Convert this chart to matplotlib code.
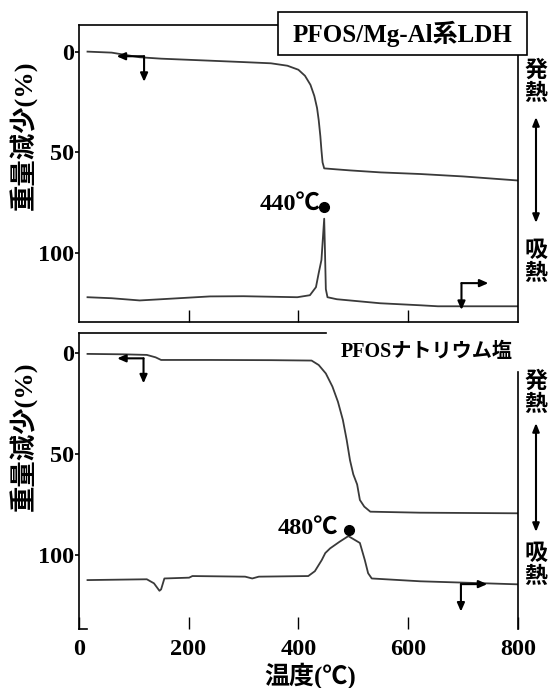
import matplotlib
matplotlib.use("Agg")
import matplotlib.pyplot as plt
from matplotlib.patches import Rectangle

plt.rcParams['font.family'] = ['Liberation Serif', 'Noto Sans CJK JP', 'DejaVu Sans']
plt.rcParams['font.weight'] = 'bold'

# temperature axis
x_ticks = [0, 200, 400, 600, 800]
y_ticks = [0, 50, 100]

# PFOS/Mg-Al LDH : TG (weight loss %) and DTA trace
ldh_tg_T = [16, 60, 111, 150, 239, 300, 350, 380, 400, 412, 422, 429, 434, 437,
            440, 442, 444, 447, 470, 494, 550, 622, 700, 799]
ldh_tg = [0, 0.5, 2.8, 3.5, 4.5, 5.2, 5.8, 7, 9, 12, 16.5, 22, 28, 34,
          42, 49, 55, 58, 58.5, 59, 60, 60.8, 62, 64]
ldh_dta_T = [16, 60, 111, 150, 239, 300, 398, 421, 432, 437, 442, 447, 448.5,
             450, 453, 470, 549, 622, 654, 799]
ldh_dta = [122, 122.5, 123.6, 123, 121.6, 121.5, 122, 121, 117, 110, 103.5, 83, 100,
           118, 122, 123, 125, 126, 126.5, 126.5]

# PFOS sodium salt
na_tg_T = [16, 80, 124, 140, 150, 239, 350, 424, 437, 450, 462, 472, 481, 488,
           494, 500, 507, 512, 520, 531, 622, 799]
na_tg = [0.3, 0.5, 0.8, 2, 3.3, 3.3, 3.4, 3.6, 5.8, 10, 16.5, 24, 33, 43,
         53, 60, 65, 72.7, 76, 78.5, 79, 79.3]
na_dta_T = [16, 124, 137, 147, 150, 156, 201, 207, 303, 316, 328, 418, 430, 442.5,
            449, 457.7, 475, 491, 512, 521, 527, 533.6, 622, 799]
na_dta = [112.4, 112, 114, 117.7, 117, 111.6, 111.2, 110.4, 110.7, 111.6, 110.7, 110.4,
          108, 102.5, 99, 96.7, 93.4, 90.6, 94, 102.5, 109, 111.6, 113, 114.5]

# peak markers
ldh_peak = (446.7, 77)
na_peak = (492.8, 87.6)

# left/right axis indicator arrows: (corner T, corner val, tip T, tip val)
left_arrow_top = (119, 2.3, 69, 15)
left_arrow_bot = (118, 2.5, 70, 14.9)
right_arrow_top = (697, 115, 746, 128.3)
right_arrow_bot = (696, 114.4, 744, 128)

line_col = '#3a3a3a'

fig = plt.figure(figsize=(5.49, 6.88), dpi=100)
ax1 = fig.add_axes([0.1434, 0.532, 0.8002, 0.4313])
ax2 = fig.add_axes([0.1434, 0.0853, 0.8002, 0.4311])


def arrows(ax, corner_T, corner_v, tip_T, tip_v):
    props = dict(arrowstyle='-|>,head_length=0.5,head_width=0.22', color='black',
                 lw=1.5, shrinkA=0, shrinkB=0)
    ax.annotate('', xy=(tip_T, corner_v), xytext=(corner_T, corner_v), arrowprops=props)
    ax.annotate('', xy=(corner_T, tip_v), xytext=(corner_T, corner_v), arrowprops=props)


for ax in (ax1, ax2):
    ax.set_xlim(0, 800)
    ax.set_xticks(x_ticks)
    ax.set_yticks(y_ticks)
    ax.tick_params(axis='x', direction='in', length=9, width=1, top=False, pad=7)
    ax.tick_params(axis='y', direction='out', length=3, width=1.2, pad=0.5,
                   labelsize=17.5)
    for lab in ax.get_yticklabels():
        lab.set_fontweight('bold')
    for s in ax.spines.values():
        s.set_linewidth(1.2)

ax1.set_ylim(134.3, -13.1)
ax2.set_ylim(136.8, -10.2)

# top panel
ax1.plot(ldh_tg_T, ldh_tg, color=line_col, lw=1.3)
ax1.plot(ldh_dta_T, ldh_dta, color=line_col, lw=1.3)
ax1.plot(*ldh_peak, 'o', color='black', ms=7)
ax1.text(ldh_peak[0] - 6, ldh_peak[1] - 1, '440℃', ha='right', va='center',
         fontsize=17.5, fontweight='bold')
ax1.tick_params(axis='x', labelbottom=False)
ax1.set_xticks([200, 400, 600])
arrows(ax1, *left_arrow_top)
arrows(ax1, *right_arrow_top)
ax1.add_patch(Rectangle((0.4537, 0.900), 0.5668, 0.145, transform=ax1.transAxes,
                        facecolor='white', edgecolor='black', lw=1.2, zorder=5,
                        clip_on=False))
ax1.text(0.7371, 0.972, 'PFOS/Mg-Al系LDH', transform=ax1.transAxes, ha='center',
         va='center', fontsize=18, fontweight='bold', zorder=6)

# bottom panel
ax2.plot(na_tg_T, na_tg, color=line_col, lw=1.3)
ax2.plot(na_dta_T, na_dta, color=line_col, lw=1.3)
ax2.plot(*na_peak, 'o', color='black', ms=7)
ax2.text(na_peak[0] - 20, na_peak[1] - 1, '480℃', ha='right', va='center',
         fontsize=17.5, fontweight='bold')
arrows(ax2, *left_arrow_bot)
arrows(ax2, *right_arrow_bot)
ax2.text(0.9886, 0.935, 'PFOSナトリウム塩', transform=ax2.transAxes, ha='right',
         va='center', fontsize=14.5, fontweight='bold')
for lab in ax2.get_xticklabels():
    lab.set_fontweight('bold')
ax2.tick_params(axis='x', labelsize=17.5)
ax2.spines['top'].set_visible(False)
ax2.spines['right'].set_visible(False)
ax2.spines['bottom'].set_visible(False)
ax2.plot([0, 0.5637], [1, 1], transform=ax2.transAxes, color='black', lw=1.2,
         clip_on=False)
ax2.plot([1, 1], [0, 0.8685], transform=ax2.transAxes, color='black', lw=1.2,
         clip_on=False)
ax2.plot([0, 0.018], [0, 0], transform=ax2.transAxes, color='black', lw=1.2,
         clip_on=False)

# axis titles
for yc in (135, 436):
    fig.text(24 / 549, 1 - yc / 688, '重量減少(%)', rotation=90, ha='center',
             va='center', fontsize=19, fontweight='bold')
fig.text(310 / 549, 1 - 676 / 688, '温度(℃)', ha='center', va='center',
         fontsize=18, fontweight='bold')

# exo / endo indicators on the right
for top_c, a0, a1, bot_c in ((82, 117, 223, 262), (393, 423, 532, 565)):
    fig.text(535.5 / 549, 1 - top_c / 688, '発\n熱', ha='center', va='center',
             fontsize=16.5, fontweight='bold', linespacing=1.0,
             family='Noto Sans CJK JP')
    fig.text(535.5 / 549, 1 - bot_c / 688, '吸\n熱', ha='center', va='center',
             fontsize=16.5, fontweight='bold', linespacing=1.0,
             family='Noto Sans CJK JP')
    ax1.annotate('', xy=(536, 688 - a0), xytext=(536, 688 - a1),
                 xycoords='figure pixels', textcoords='figure pixels',
                 arrowprops=dict(arrowstyle='<|-|>,head_length=0.5,head_width=0.2',
                                 color='black', lw=1.5, shrinkA=0, shrinkB=0))

fig.savefig('out.png', dpi=100)
